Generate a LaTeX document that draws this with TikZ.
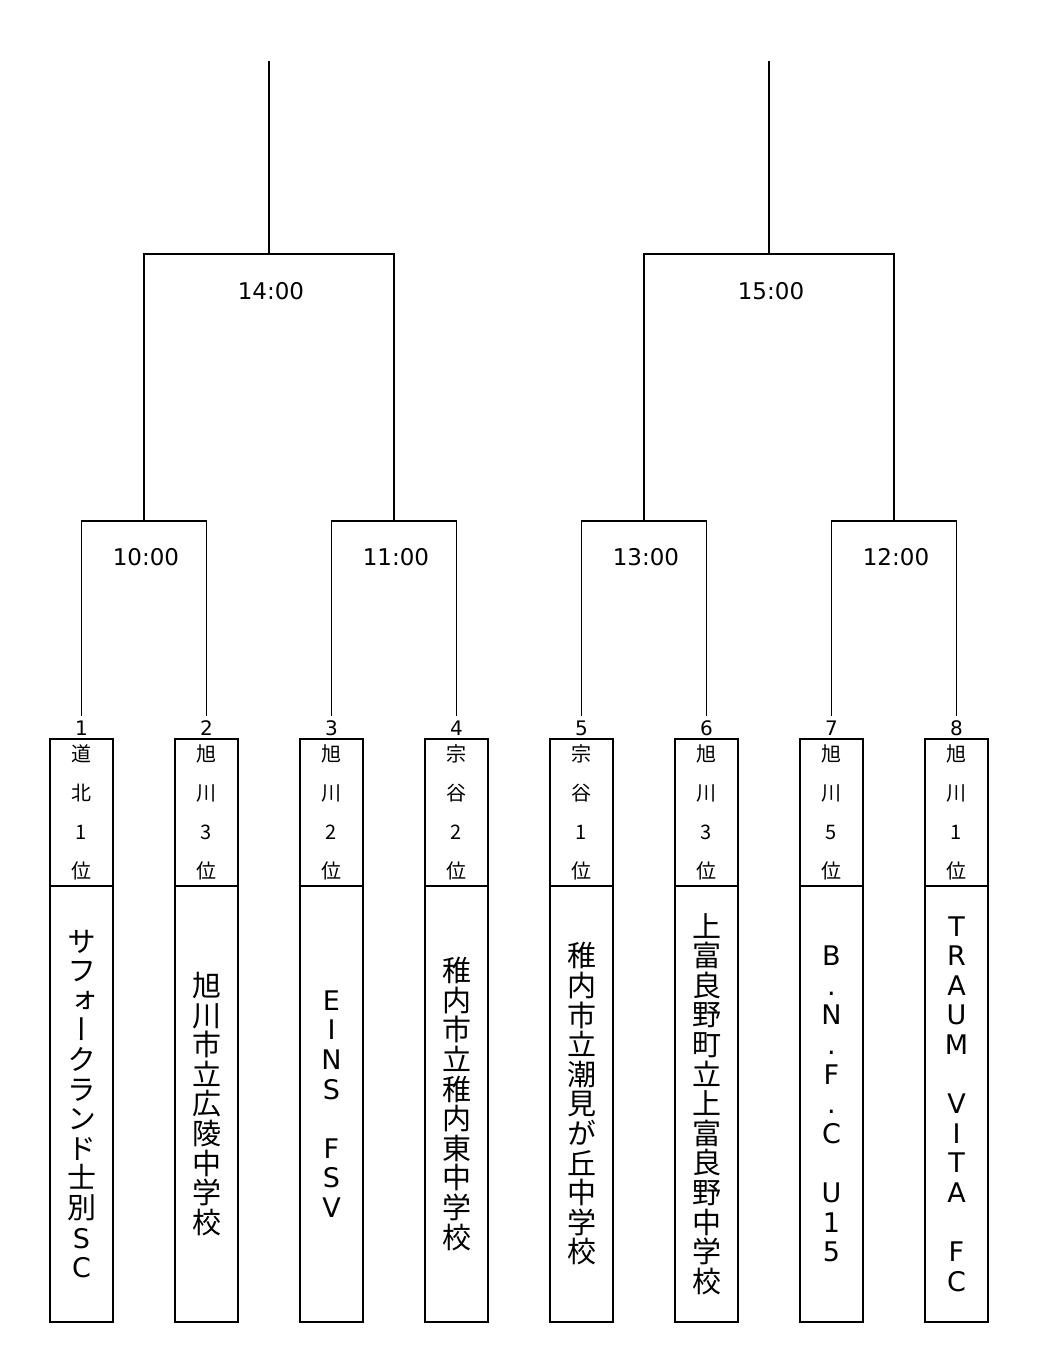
\documentclass[tikz,border=0pt]{standalone}
\usepackage{fontspec}
\usepackage{tikz}
\usetikzlibrary{positioning}
\setmainfont{Noto Sans CJK JP}
\newfontfamily\vertjp{Noto Sans CJK JP}[RawFeature=+vert]
\newfontfamily\latinfont{DejaVu Sans}
\newcommand{\lat}[1]{{\latinfont\fontsize{27}{29.6}\selectfont #1}}

\begin{document}
\begin{tikzpicture}[x=1pt, y=-1pt, line width=1.8pt,
    rank/.style={rectangle, draw, line width=1.8pt, outer sep=0pt, minimum width=63pt, minimum height=147pt, inner sep=0pt, align=center, font=\fontsize{20}{39}\selectfont},
    team/.style={rectangle, draw, line width=1.8pt, outer sep=0pt, minimum width=63pt, minimum height=436pt, inner sep=0pt, align=center, font=\vertjp\fontsize{29}{29.6}\selectfont},
    latinteam/.style={team, font=\latinfont\fontsize{27}{29.6}\selectfont},
    seed/.style={inner xsep=0pt, inner ysep=3pt, text height=15pt, text depth=0pt, font=\latinfont\fontsize{20}{20}\selectfont},
    time/.style={font=\latinfont\fontsize{23}{23}\selectfont}]
    \useasboundingbox (0,0) rectangle (1038,1353);

    % entries
    \node[rank] (r1) at (81.5,812.5) {道\\北\\1\\位};
    \node[rank] (r2) at (206.5,812.5) {旭\\川\\3\\位};
    \node[rank] (r3) at (331.5,812.5) {旭\\川\\2\\位};
    \node[rank] (r4) at (456.5,812.5) {宗\\谷\\2\\位};
    \node[rank] (r5) at (581.5,812.5) {宗\\谷\\1\\位};
    \node[rank] (r6) at (706.5,812.5) {旭\\川\\3\\位};
    \node[rank] (r7) at (831.5,812.5) {旭\\川\\5\\位};
    \node[rank] (r8) at (956.5,812.5) {旭\\川\\1\\位};

    \node[team, below=0pt of r1] (e1) {サ\\フ\\ォ\\ー\\ク\\ラ\\ン\\ド\\士\\別\\\lat{S}\\\lat{C}};
    \node[team, below=0pt of r2] (e2) {旭\\川\\市\\立\\広\\陵\\中\\学\\校};
    \node[latinteam, below=0pt of r3] (e3) {E\\I\\N\\S\\\mbox{}\\F\\S\\V};
    \node[team, below=0pt of r4] (e4) {稚\\内\\市\\立\\稚\\内\\東\\中\\学\\校};
    \node[team, below=0pt of r5] (e5) {稚\\内\\市\\立\\潮\\見\\が\\丘\\中\\学\\校};
    \node[team, below=0pt of r6] (e6) {上\\富\\良\\野\\町\\立\\上\\富\\良\\野\\中\\学\\校};
    \node[latinteam, below=0pt of r7] (e7) {B\\.\\N\\.\\F\\.\\C\\\mbox{}\\U\\1\\5};
    \node[latinteam, below=0pt of r8] (e8) {T\\R\\A\\U\\M\\\mbox{}\\V\\I\\T\\A\\\mbox{}\\F\\C};

    \node[seed, above=0pt of r1] (s1) {1};
    \node[seed, above=0pt of r2] (s2) {2};
    \node[seed, above=0pt of r3] (s3) {3};
    \node[seed, above=0pt of r4] (s4) {4};
    \node[seed, above=0pt of r5] (s5) {5};
    \node[seed, above=0pt of r6] (s6) {6};
    \node[seed, above=0pt of r7] (s7) {7};
    \node[seed, above=0pt of r8] (s8) {8};

    % bracket
    \coordinate (q1) at (144,521);
    \coordinate (q2) at (394,521);
    \coordinate (q3) at (644,521);
    \coordinate (q4) at (894,521);
    \coordinate (h1) at (269,254);
    \coordinate (h2) at (769,254);
    \coordinate (top1) at (269,61);
    \coordinate (top2) at (769,61);

    \draw (s1.north) |- (q1) -| (s2.north);
    \draw (s3.north) |- (q2) -| (s4.north);
    \draw (s5.north) |- (q3) -| (s6.north);
    \draw (s7.north) |- (q4) -| (s8.north);
    \draw (q1) |- (h1) -| (q2);
    \draw (q3) |- (h2) -| (q4);
    \draw (h1) -- (top1);
    \draw (h2) -- (top2);

    \node[time] (t1) at (146,557) {10:00};
    \node[time] (t2) at (396,557) {11:00};
    \node[time] (t3) at (646,557) {13:00};
    \node[time] (t4) at (896,557) {12:00};
    \node[time] (t5) at (271,291) {14:00};
    \node[time] (t6) at (771,291) {15:00};
\end{tikzpicture}
\end{document}
